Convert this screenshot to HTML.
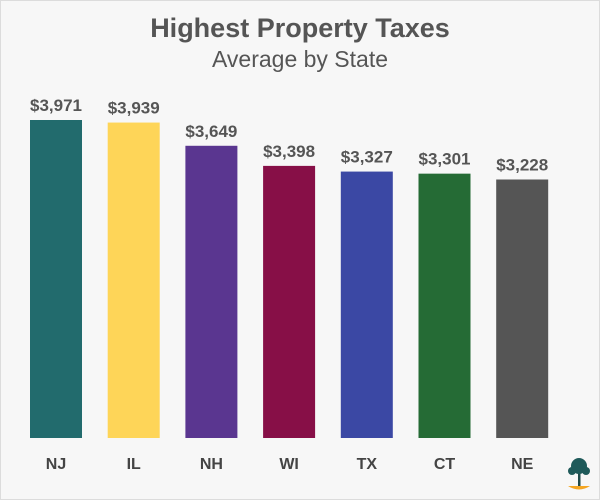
<!DOCTYPE html>
<html><head><meta charset="utf-8"><style>
body{margin:0;background:#fff}
#c{position:relative;width:598px;height:498px;background:#f7f7f7;border:1px solid #dcdcdc;font-family:"Liberation Sans",sans-serif;overflow:hidden}
svg{position:absolute;left:0;top:0}
</style></head><body>
<div id="c">
<svg id="s" width="600" height="500">
<text x="299" y="36" text-anchor="middle" font-size="27" font-weight="bold" fill="#555">Highest Property Taxes</text>
<text x="299" y="66" text-anchor="middle" font-size="23" fill="#555">Average by State</text>
<g id="bars"></g>
<g>
<path d="M567 485 Q578 492 589 485 Z" fill="#f5a623"/>
<rect x="577" y="470" width="2.5" height="15" fill="#1f4a4a"/>
<circle cx="578" cy="465" r="8" fill="#1f5a5a"/>
<circle cx="571" cy="470" r="4" fill="#1f5a5a"/>
<circle cx="585" cy="470" r="4" fill="#1f5a5a"/>
</g>
</svg>
</div>
<script>
const categories=["NJ","IL","NH","WI","TX","CT","NE"];
const values=[3971,3939,3649,3398,3327,3301,3228];
const valueLabels=["$3,971","$3,939","$3,649","$3,398","$3,327","$3,301","$3,228"];
const colors=["#226b6d","#fed558","#5a3690","#870f47","#3b48a4","#256b35","#555555"];
const ns="http://www.w3.org/2000/svg";
const g=document.getElementById("bars");
const base=437, scale=318/3971;
function yPos(v){return base-v*scale;}
function xPos(i){return 29+i*77.7;}
const bw=52;
values.forEach((v,i)=>{
  const r=document.createElementNS(ns,"rect");
  r.setAttribute("x",xPos(i));r.setAttribute("y",yPos(v));
  r.setAttribute("width",bw);r.setAttribute("height",base-yPos(v));
  r.setAttribute("fill",colors[i]);
  
  
  g.appendChild(r);
  const t=document.createElementNS(ns,"text");
  t.setAttribute("x",xPos(i)+bw/2);t.setAttribute("y",yPos(v)-9);
  t.setAttribute("text-anchor","middle");t.setAttribute("font-size","17");t.setAttribute("font-weight","bold");t.setAttribute("fill","#555");
  t.textContent=valueLabels[i];
  
  
  g.appendChild(t);
  const c=document.createElementNS(ns,"text");
  c.setAttribute("x",xPos(i)+bw/2);c.setAttribute("y",468);
  c.setAttribute("text-anchor","middle");c.setAttribute("font-size","16");c.setAttribute("font-weight","bold");c.setAttribute("fill","#444");
  c.textContent=categories[i];
  
  
  g.appendChild(c);
});
</script>
</body></html>
